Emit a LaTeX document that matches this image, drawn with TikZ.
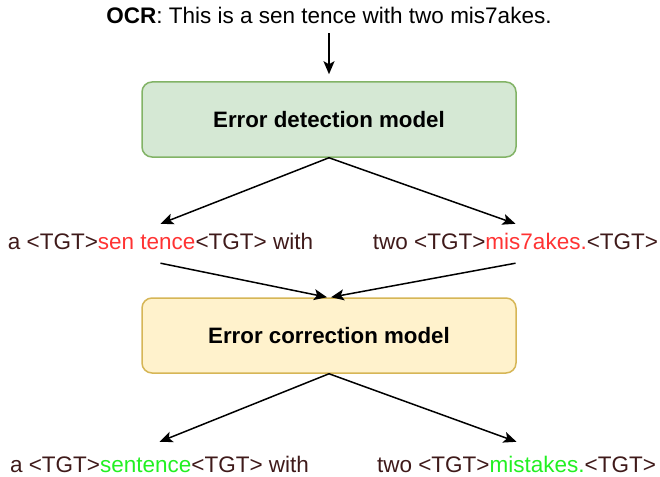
\documentclass[tikz,border=0pt]{standalone}
\usepackage{fontspec}
\setmainfont{Liberation Sans}
\usetikzlibrary{arrows.meta}

\definecolor{txtdark}{HTML}{3F1A1A}
\definecolor{errred}{HTML}{FF3333}
\definecolor{fixgreen}{HTML}{22F022}
\definecolor{detfill}{HTML}{D5E8D4}
\definecolor{detline}{HTML}{82B366}
\definecolor{corfill}{HTML}{FFF2CC}
\definecolor{corline}{HTML}{D6B656}

\tikzset{
  x=1pt, y=1pt,
  every node/.style={font=\fontsize{22.5}{26}\selectfont},
  modelbox/.style={rounded corners=10pt, line width=1.5pt,
    minimum width=374pt, minimum height=75pt, inner sep=0pt,
    font=\fontsize{22.3}{26}\selectfont\bfseries},
  seqtext/.style={anchor=base, inner xsep=0pt, inner ysep=9pt,
    text height=16pt, text depth=5pt, text=txtdark},
  outtext/.style={seqtext, inner ysep=14pt},
  flow/.style={line width=1.5pt, -{Stealth[length=13pt,width=11pt,inset=3pt]}}
}

\begin{document}
\begin{tikzpicture}
\useasboundingbox (0,0) rectangle (660,-476);

% input line
\node[anchor=base, inner ysep=4pt, text height=16pt, text depth=5pt] (ocr) at (329,-24)
  {\textbf{OCR}: This is a sen tence with two mis7akes.};

% models
\node[modelbox, fill=detfill, draw=detline] (det) at (329,-119.5) {Error detection model};
\node[modelbox, fill=corfill, draw=corline] (cor) at (329,-335.5) {Error correction model};

% detected spans
\node[seqtext] (l1) at (160.5,-249)
  {a <TGT>\textcolor{errred}{sen tence}<TGT> with};
\node[seqtext] (r1) at (515.5,-249)
  {two <TGT>\textcolor{errred}{mis7akes.}<TGT>};

% corrected spans
\node[outtext] (l2) at (159.5,-472)
  {a <TGT>\textcolor{fixgreen}{sentence}<TGT> with};
\node[outtext] (r2) at (516.5,-472)
  {two <TGT>\textcolor{fixgreen}{mistakes.}<TGT>};

% connectors
\draw[flow] (ocr.south) -- ([yshift=7pt]det.north);
\draw[flow] (det.south) -- (l1.north);
\draw[flow] (det.south) -- (r1.north);
\draw[flow] (l1.south) -- ([xshift=-2pt]cor.north);
\draw[flow] (r1.south) -- ([xshift=2pt]cor.north);
\draw[flow] (cor.south) -- (l2.north);
\draw[flow] (cor.south) -- (r2.north);
\end{tikzpicture}
\end{document}
